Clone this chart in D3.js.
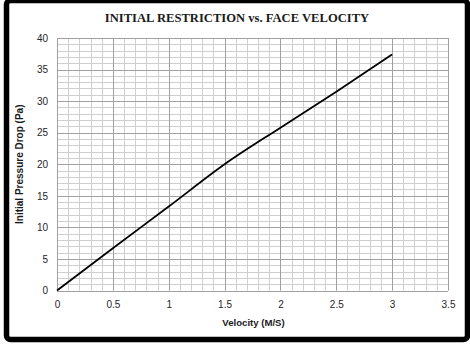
<!DOCTYPE html>
<html><head><meta charset="utf-8">
<script src="https://cdn.jsdelivr.net/npm/d3@7"></script>
<style>body{margin:0;background:#fff}svg{display:block}</style>
</head><body><svg id="c" width="470" height="349"></svg>
<script>
const velocity = [0, 0.5, 1, 1.5, 2, 2.5, 3];
const pressureDrop = [0, 6.7, 13.3, 20.0, 25.8, 31.5, 37.4];
const xTicks = [0, 0.5, 1, 1.5, 2, 2.5, 3, 3.5];
const yTicks = [0, 5, 10, 15, 20, 25, 30, 35, 40];
const title = "INITIAL RESTRICTION vs. FACE VELOCITY";
const xTitle = "Velocity (M/S)";
const yTitle = "Initial Pressure Drop (Pa)";

const svg = d3.select("#c");
const m = {l:57, r:448, t:38, b:290.5};
const x = d3.scaleLinear().domain([0,3.5]).range([m.l, m.r]);
const y = d3.scaleLinear().domain([0,40]).range([m.b, m.t]);

// frame
svg.append("rect").attr("x",6.5).attr("y",0.5).attr("width",461).attr("height",339)
  .attr("rx",4).attr("fill","#fff").attr("stroke","#000").attr("stroke-width",5.5);

svg.append("text").attr("x",237).attr("y",22).attr("text-anchor","middle")
  .attr("font-family","Liberation Serif, Times New Roman, serif").attr("font-weight","bold")
  .attr("font-size",12.6).attr("fill","#1a1a1a").text(title);

const g = svg.append("g");
// minor grid
const xMinor = d3.range(0, 3.5001, 0.1).map(v=>+v.toFixed(2));
const yMinor = d3.range(0, 40.001, 1);
g.selectAll(".vx").data(xMinor).join("line")
  .attr("x1",d=>Math.round(x(d))+0.5).attr("x2",d=>Math.round(x(d))+0.5)
  .attr("y1",m.t).attr("y2",m.b).attr("stroke","#cfcfcf").attr("stroke-width",1);
g.selectAll(".hy").data(yMinor).join("line")
  .attr("y1",d=>Math.round(y(d))+0.5).attr("y2",d=>Math.round(y(d))+0.5)
  .attr("x1",m.l).attr("x2",m.r).attr("stroke","#cfcfcf").attr("stroke-width",1);
// major grid
g.selectAll(".mx").data(xTicks).join("line")
  .attr("x1",d=>Math.round(x(d))+0.5).attr("x2",d=>Math.round(x(d))+0.5)
  .attr("y1",m.t).attr("y2",m.b).attr("stroke","#a0a0a0").attr("stroke-width",1);
g.selectAll(".my").data(yTicks).join("line")
  .attr("y1",d=>Math.round(y(d))+0.5).attr("y2",d=>Math.round(y(d))+0.5)
  .attr("x1",m.l).attr("x2",m.r).attr("stroke","#a0a0a0").attr("stroke-width",1);

// axes (labels only)
const font = "Liberation Sans, Arial, sans-serif";
const xa = svg.append("g").attr("transform",`translate(0,${m.b})`)
  .call(d3.axisBottom(x).tickValues(xTicks).tickSize(0).tickPadding(10).tickFormat(d=>String(d)));
const ya = svg.append("g").attr("transform",`translate(${m.l},0)`)
  .call(d3.axisLeft(y).tickValues(yTicks).tickSize(0).tickPadding(9).tickFormat(d=>String(d)));
[xa,ya].forEach(a=>{a.select(".domain").remove();
  a.selectAll("text").attr("font-family",font).attr("font-size",10).attr("fill","#262626");});

svg.append("text").attr("x",(m.l+m.r)/2+1).attr("y",326).attr("text-anchor","middle")
  .attr("font-family",font).attr("font-weight","bold").attr("font-size",9.6).attr("fill","#1a1a1a").text(xTitle);
svg.append("text").attr("transform",`translate(23,${(m.t+m.b)/2}) rotate(-90)`).attr("text-anchor","middle")
  .attr("font-family",font).attr("font-weight","bold").attr("font-size",10).attr("fill","#1a1a1a").text(yTitle);

// line
svg.append("path").datum(velocity.map((v,i)=>[v,pressureDrop[i]]))
  .attr("fill","none").attr("stroke","#000").attr("stroke-width",1.8)
  .attr("d", d3.line().x(d=>x(d[0])).y(d=>y(d[1])).curve(d3.curveMonotoneX));
</script></body></html>
